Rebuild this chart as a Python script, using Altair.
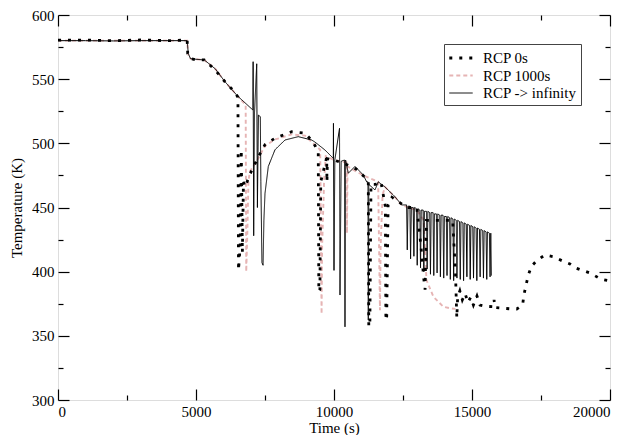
import altair as alt
import pandas as pd

# ---------------- data ----------------
series_names = ["RCP 0s", "RCP 1000s", "RCP -> infinity"]

# RCP -> infinity (solid black)
inf_t = [0, 1000, 2000, 3000, 4000, 4680, 4720, 4800, 5000, 5300, 5700, 6050, 6500,
         7060, 7070, 7090, 7120, 7200, 7225, 7260, 7330, 7350, 7390, 7430, 7460, 7500,
         7620, 7862, 8225, 8706, 9190, 9310, 9673, 9975, 9980, 10000, 10030, 10200,
         10217, 10260, 10380, 10398, 10420, 10518, 10760, 11062, 11183, 11230, 11243,
         11260, 11485, 11605, 11847, 12210, 12452,
         12630, 12655, 12680, 12750, 12775, 12800, 12870, 12895, 12920, 12990, 13015, 13040,
         13110, 13135, 13160, 13230, 13255, 13280, 13350, 13375, 13400, 13470, 13495, 13520,
         13590, 13615, 13640, 13710, 13735, 13760, 13830, 13855, 13880, 13950, 13975, 14000,
         14070, 14095, 14120, 14190, 14215, 14240, 14310, 14335, 14360, 14430, 14455, 14480,
         14550, 14575, 14600, 14670, 14695, 14720, 14790, 14815, 14840, 14910, 14935, 14960,
         15030, 15055, 15080, 15150, 15175, 15200, 15270, 15295, 15320, 15390, 15415, 15440,
         15510, 15535, 15560, 15630, 15655, 15680, 15705]
inf_T = [580, 580, 579.8, 580, 580, 580, 570, 566, 565.5, 565, 558, 548, 537,
         526, 563.6, 428, 524, 562, 450, 522, 520.8, 470, 407, 405, 440, 461,
         482, 495, 502.6, 505.2, 502.6, 501, 494.8, 488.3, 515.6, 401, 487, 511.7,
         381.8, 486, 487, 357, 487, 476.7, 482, 475.3, 470, 470, 362.3,
         468, 463.7, 470, 466, 458.4, 452,
         452, 417, 451, 451, 410, 450, 450, 412, 450, 449, 405, 449,
         448, 403, 448, 448, 400, 447, 447, 402, 447, 446, 398, 446,
         446, 397, 445, 445, 399, 445, 444, 396, 444, 444, 395, 443,
         443, 397, 443, 442, 394, 442, 441, 393, 441, 440, 395, 440,
         439, 394, 439, 438, 393, 438, 437, 396, 437, 436, 394, 436,
         435, 395, 435, 434, 393, 434, 433, 396, 433, 432, 395, 432,
         431, 394, 431, 430, 396, 430, 397]

# RCP 1000s (pink dashed)
k_t = [0, 1000, 2000, 3000, 4000, 4680, 4720, 4800, 5000, 5300, 5700, 6050, 6500,
       6800, 6820, 6860, 6900, 6950, 7250, 7500, 7862, 8466, 8950, 9240, 9500, 9550,
       9570, 9640, 9700, 10000, 10460, 10470, 10490, 11062, 11600, 11665, 11690,
       11760, 11850, 12210, 12452, 12700, 13000, 13250, 13350, 13600, 13960, 14200, 14400]
k_T = [580, 580, 580, 580, 580, 580, 568, 566, 565.5, 565, 558, 548, 537,
       530, 400, 430, 470, 478, 488, 498, 503, 507, 506, 500, 495, 367,
       420, 470, 490, 487, 485, 430, 482, 475, 470, 370, 420,
       460, 466, 458, 452, 450, 448, 440, 393.5, 380.5, 372.7, 371.5, 371]

# RCP 0s (black dotted)
z_t = [0, 1000, 2000, 3000, 4000, 4680, 4700, 4800, 5000, 5300, 5700, 6050, 6400,
       6520, 6540, 6600, 6640, 6680, 6720, 6775, 7000, 7250, 7500, 7862, 8466, 8950,
       9240, 9430, 9450, 9490, 9520, 9735, 9745, 9760, 10000, 10400, 10800, 11100,
       11243, 11260, 11300, 11340, 11500, 11700, 11860, 11880, 11910, 11960, 12100,
       12300, 12500, 12700, 13000, 13150, 13250, 13300, 13350, 14300, 14400, 14450,
       14480, 14560, 14650, 14750, 14850, 14950, 15050, 15180, 15290, 15500, 15770,
       15800, 15830, 16130, 16400, 16620, 16835, 16880, 16960, 17040, 17160, 17365,
       17645, 17945, 18250, 18550, 18730, 19030, 19310, 19575, 19700, 19940, 20000]
z_T = [580.5, 580.5, 580, 580.5, 580, 580.5, 570, 566, 565, 565, 557, 548, 540,
       536, 401, 420, 495, 415, 470, 466, 478, 489, 499, 504, 509, 508,
       501, 493.5, 384.4, 386, 470, 489, 470, 488, 487, 484, 480, 474,
       470, 357, 360, 468, 468, 470, 451, 362, 365, 452, 458,
       455, 452, 450, 450, 420, 395, 386, 440, 440, 400, 364,
       380, 385, 378, 383, 376, 380, 374, 381, 374, 373, 372.7,
       378, 372, 371.5, 371, 370.9, 374, 381.8, 389.6, 397.4, 404.4, 409,
       413, 411.7, 408.6, 406, 403.1, 400.8, 398.7, 395.3, 394, 393, 392.5]

x_major = [0, 5000, 10000, 15000, 20000]
x_minor = [2500, 7500, 12500, 17500]
y_major = [300, 350, 400, 450, 500, 550, 600]
y_minor = [325, 375, 425, 475, 525, 575]

# ---------------- table ----------------
frames = []
for name, tt, TT in [("RCP 1000s", k_t, k_T), ("RCP -> infinity", inf_t, inf_T), ("RCP 0s", z_t, z_T)]:
    frames.append(pd.DataFrame({"t": tt, "T": TT, "series": name, "i": range(len(tt))}))
df = pd.concat(frames, ignore_index=True)

W, H = 552, 385
FONT = "Liberation Serif"

xs = alt.Scale(domain=[0, 20000], nice=False, zero=False)
ys = alt.Scale(domain=[300, 600], nice=False, zero=False)

legend = alt.Legend(title=None, orient="none", legendX=386, legendY=29,
                    strokeColor="#444444", fillColor="white", padding=4,
                    labelFont=FONT, labelFontSize=15, labelColor="black",
                    labelOffset=12, symbolOffset=3, symbolType="M-1.4,0H1.4",
                    symbolSize=280, rowPadding=0, labelLimit=300)

color = alt.Color("series:N", scale=alt.Scale(domain=series_names,
                  range=["#000000", "#e6b4b4", "#000000"]), legend=legend)
dash = alt.StrokeDash("series:N", scale=alt.Scale(domain=series_names,
                      range=[[3, 7], [4, 3], [1, 0]]), legend=legend)
swidth = alt.StrokeWidth("series:N", scale=alt.Scale(domain=series_names,
                         range=[2.8, 1.0, 1.2]), legend=legend)

x_axis = alt.Axis(orient="bottom", values=x_major, format="d", title="Time (s)",
                  ticks=False, tickSize=0, domain=False, grid=False,
                  labelFont=FONT, labelFontSize=15, labelPadding=4, labelColor="black",
                  titleFont=FONT, titleFontSize=15, titleFontWeight="normal",
                  titleColor="black", titlePadding=1)
y_axis = alt.Axis(orient="left", values=y_major, format="d", title="Temperature (K)",
                  ticks=False, tickSize=0, domain=False, grid=False,
                  labelFont=FONT, labelFontSize=15, labelPadding=4, labelColor="black",
                  titleFont=FONT, titleFontSize=15, titleFontWeight="normal",
                  titleColor="black", titlePadding=7)


def series_layer(name, first):
    return alt.Chart(df).transform_filter(alt.datum.series == name).mark_line(
        strokeCap="butt", strokeJoin="miter").encode(
        x=alt.X("t:Q", scale=xs, axis=x_axis if first else None),
        y=alt.Y("T:Q", scale=ys, axis=y_axis if first else None),
        color=color, strokeDash=dash, strokeWidth=swidth,
        order=alt.Order("i:Q"),
    )


def tick_axis(orient, vals, size, offset):
    return alt.Axis(orient=orient, values=vals, tickSize=size, offset=offset,
                    labels=False, domain=False, grid=False, title=None,
                    ticks=True, tickColor="black", tickWidth=1.2)


def tick_layer(xorient, yorient, xv, yv, size):
    return alt.Chart(df).mark_point(opacity=0).encode(
        x=alt.X("t:Q", scale=xs, axis=tick_axis(xorient, xv, size, -H)),
        y=alt.Y("T:Q", scale=ys, axis=tick_axis(yorient, yv, size, -W)),
    )


layers = [
    series_layer("RCP 1000s", True),
    series_layer("RCP -> infinity", False),
    series_layer("RCP 0s", False),
    tick_layer("top", "right", x_major, y_major, 11),
    tick_layer("top", "right", x_minor, y_minor, 5),
    tick_layer("bottom", "left", x_major, y_major, 11),
    tick_layer("bottom", "left", x_minor, y_minor, 5),
]

chart = alt.layer(*layers).resolve_axis(x="independent", y="independent").properties(
    width=W, height=H,
    autosize=alt.AutoSizeParams(type="none"),
    padding={"left": 50, "top": 7, "right": 13, "bottom": 35},
    background="white",
).configure_view(stroke="#222222", strokeWidth=1.3).configure(font=FONT)

chart.save("out.html", embed_options={"renderer": "svg", "actions": False})
